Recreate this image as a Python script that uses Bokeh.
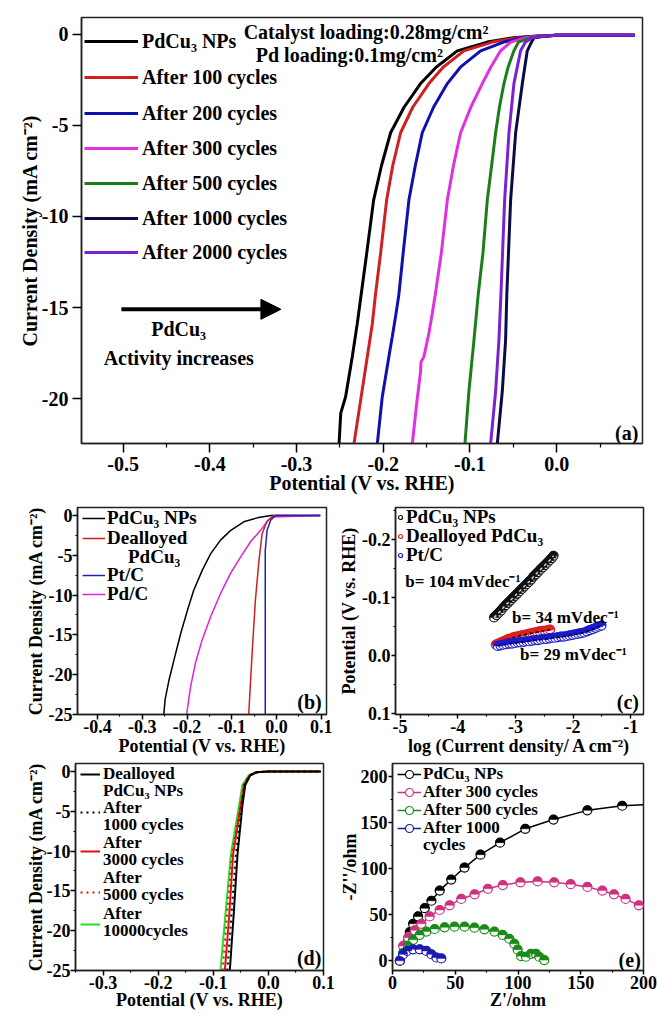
from math import pi
from bokeh.plotting import figure
from bokeh.layouts import column, row
from bokeh.models import (Range1d, FixedTicker, PrintfTickFormatter, Legend, LegendItem,
                          Label, Arrow, NormalHead)
from bokeh.embed import file_html
from bokeh.resources import INLINE

FONT = "Liberation Serif"

# ---------------- Panel (a): LSV after cycling ----------------
a_labels = ["PdCu\u2083 NPs", "After 100 cycles", "After 200 cycles", "After 300 cycles",
            "After 500 cycles", "After 1000 cycles", "After 2000 cycles"]
a_colors = ["#000000", "#d02020", "#1010b0", "#e030e0", "#1a7f1a", "#0b0b45", "#7b22d0"]
a_black_x = [-0.251, -0.249, -0.2434, -0.2357, -0.230, -0.2255, -0.219, -0.2111, -0.202, -0.1915, -0.176, -0.157, -0.139, -0.1146, -0.080, -0.0497, -0.0266, 0.0, 0.09]
a_black_y = [-22.5, -20.8, -19.9, -17.7, -15.9, -14.3, -12, -9.1, -7.2, -5.4, -4, -2.7, -1.8, -0.9, -0.42, -0.18, -0.1, -0.05, -0.05]
a_red_x = [-0.2338, -0.2261, -0.2184, -0.2126, -0.209, -0.203, -0.1961, -0.189, -0.180, -0.166, -0.1473, -0.131, -0.107, -0.0742, -0.0454, -0.024, 0.0, 0.09]
a_red_y = [-22.5, -20.1, -17.7, -15.9, -14.3, -12, -9.1, -7.2, -5.4, -4, -2.7, -1.8, -0.9, -0.42, -0.18, -0.1, -0.05, -0.05]
a_blue_x = [-0.2069, -0.2011, -0.1935, -0.1896, -0.1858, -0.182, -0.177, -0.1704, -0.163, -0.155, -0.142, -0.1261, -0.111, -0.0877, -0.061, -0.0396, -0.022, 0.0, 0.09]
a_blue_y = [-22.5, -19.9, -17.7, -16.6, -15.5, -14.3, -12, -9.1, -7.2, -5.4, -4, -2.7, -1.8, -0.9, -0.42, -0.18, -0.1, -0.05, -0.05]
a_mag_x = [-0.1665, -0.1615, -0.1569, -0.1565, -0.1531, -0.1473, -0.1434, -0.140, -0.133, -0.1261, -0.119, -0.1108, -0.099, -0.0858, -0.076, -0.0647, -0.053, -0.0358, -0.02, 0.0, 0.09]
a_mag_y = [-22.5, -20.3, -18.5, -18.0, -17.7, -16.4, -15.3, -14.3, -12, -9.1, -7.2, -5.4, -4, -2.7, -1.8, -0.9, -0.42, -0.18, -0.1, -0.05, -0.05]
a_green_x = [-0.1058, -0.1012, -0.0954, -0.0905, -0.085, -0.080, -0.075, -0.0704, -0.066, -0.0608, -0.056, -0.0493, -0.044, -0.030, -0.016, 0.0, 0.09]
a_green_y = [-22.5, -19.6, -16.8, -14.3, -12, -9.1, -7.2, -5.4, -4, -2.7, -1.8, -0.9, -0.42, -0.18, -0.1, -0.05, -0.05]
a_navy_x = [-0.0685, -0.0627, -0.0589, -0.0575, -0.0531, -0.0473, -0.0396, -0.0339, -0.029, -0.026, -0.014, 0.0, 0.09]
a_navy_y = [-22.5, -19.6, -16.8, -14.3, -9.1, -5.4, -2.7, -0.9, -0.42, -0.18, -0.1, -0.05, -0.05]
a_purple_x = [-0.0762, -0.0704, -0.0666, -0.0643, -0.060, -0.055, -0.0493, -0.0416, -0.036, -0.028, -0.015, 0.0, 0.09]
a_purple_y = [-22.5, -19.6, -16.8, -14.3, -9.1, -5.4, -2.7, -0.9, -0.42, -0.18, -0.1, -0.05, -0.05]
a_xticks = [-0.5, -0.4, -0.3, -0.2, -0.1, 0.0, 0.1]
a_yticks = [0, -5, -10, -15, -20]

# ---------------- Panel (b): comparison of catalysts ----------------
b_labels = ["PdCu\u2083 NPs", "Dealloyed", "PdCu\u2083", "Pt/C", "Pd/C"]
b_black_x = [-0.252, -0.249, -0.240, -0.229, -0.214, -0.199, -0.185, -0.166, -0.147, -0.125, -0.103, -0.073, -0.043, -0.013, 0.098]
b_black_y = [-25, -23.1, -20.6, -18.1, -14.8, -11.9, -9.4, -6.9, -4.8, -3.1, -1.9, -0.8, -0.3, 0, 0]
b_red_x = [-0.062, -0.054, -0.047, -0.039, -0.032, -0.021, -0.006, 0.098]
b_red_y = [-25, -16.9, -10.6, -5.6, -2.3, -0.7, 0, 0]
b_blue_x = [-0.025, -0.025, -0.021, -0.013, -0.002, 0.098]
b_blue_y = [-25, -4.4, -1.9, -0.6, 0, 0]
b_mag_x = [-0.201, -0.192, -0.181, -0.166, -0.147, -0.125, -0.103, -0.080, -0.058, -0.036, -0.021, -0.010, 0.098]
b_mag_y = [-25, -21.5, -18.5, -15.6, -12.7, -9.8, -7.3, -5.2, -3.3, -1.9, -0.8, -0.2, 0]
b_xticks = [-0.4, -0.3, -0.2, -0.1, 0.0, 0.1]
b_yticks = [0, -5, -10, -15, -20, -25]

# ---------------- Panel (c): Tafel plots ----------------
c_labels = ["PdCu\u2083 NPs", "Dealloyed PdCu\u2083", "Pt/C"]
c_black_x = [-3.37, -3.33, -3.29, -3.25, -3.21, -3.17, -3.13, -3.09, -3.05, -3.01, -2.97, -2.93, -2.89, -2.85,
             -2.81, -2.77, -2.73, -2.69, -2.65, -2.61, -2.57, -2.53, -2.49, -2.45, -2.41, -2.37, -2.34]
c_black_y = [-0.066, -0.070, -0.074, -0.078, -0.083, -0.087, -0.091, -0.095, -0.099, -0.103, -0.107, -0.111,
             -0.115, -0.119, -0.123, -0.127, -0.131, -0.136, -0.140, -0.144, -0.148, -0.152, -0.156, -0.160,
             -0.164, -0.168, -0.172]
c_red_x = [-3.34, -3.30, -3.25, -3.21, -3.16, -3.12, -3.07, -3.03, -2.98, -2.94, -2.89, -2.85, -2.80, -2.76,
           -2.71, -2.67, -2.62, -2.58, -2.53, -2.49, -2.44, -2.40]
c_red_y = [-0.019, -0.021, -0.023, -0.025, -0.027, -0.029, -0.030, -0.032, -0.033, -0.034, -0.035, -0.036,
           -0.037, -0.038, -0.039, -0.040, -0.041, -0.042, -0.043, -0.043, -0.044, -0.045]
c_blue_x = [-3.31, -3.26, -3.21, -3.16, -3.11, -3.06, -3.01, -2.96, -2.91, -2.86, -2.81, -2.76, -2.71, -2.66,
            -2.61, -2.56, -2.51, -2.46, -2.41, -2.36, -2.31, -2.26, -2.21, -2.16, -2.11, -2.06, -2.01, -1.96,
            -1.91, -1.86, -1.81, -1.76, -1.71, -1.66, -1.61, -1.56, -1.51]
c_blue_y = [-0.017, -0.018, -0.019, -0.020, -0.021, -0.021, -0.022, -0.023, -0.023, -0.024, -0.025, -0.025,
            -0.026, -0.027, -0.027, -0.028, -0.029, -0.029, -0.030, -0.031, -0.031, -0.032, -0.033, -0.033,
            -0.034, -0.035, -0.036, -0.037, -0.038, -0.039, -0.040, -0.042, -0.044, -0.046, -0.048, -0.050, -0.052]
c_notes = ["b= 104 mVdec\u207b\u00b9", "b= 34 mVdec\u207b\u00b9", "b= 29 mVdec\u207b\u00b9"]
c_xticks = [-5, -4, -3, -2, -1]
c_yticks = [-0.2, -0.1, 0.0, 0.1]

# ---------------- Panel (d): durability of dealloyed PdCu3 ----------------
d_labels = ["Dealloyed", "PdCu\u2083 NPs", "After", "1000 cycles", "After", "3000 cycles",
            "After", "5000 cycles", "After", "10000cycles"]
d_y = [-25, -18, -10.4, -4.2, -1.7, -0.5, -0.1, 0, 0]
d_black_x = [-0.070, -0.063, -0.056, -0.047, -0.042, -0.033, -0.021, 0.0, 0.095]
d_blackdot_x = [-0.0745, -0.067, -0.059, -0.048, -0.043, -0.034, -0.021, 0.0, 0.095]
d_red_x = [-0.079, -0.071, -0.064, -0.050, -0.044, -0.034, -0.022, 0.0, 0.095]
d_reddot_x = [-0.083, -0.075, -0.066, -0.051, -0.045, -0.035, -0.022, 0.0, 0.095]
d_green_x = [-0.087, -0.078, -0.068, -0.053, -0.047, -0.036, -0.022, 0.0, 0.095]
d_xticks = [-0.3, -0.2, -0.1, 0.0, 0.1]
d_yticks = [0, -5, -10, -15, -20, -25]

# ---------------- Panel (e): Nyquist plots ----------------
e_labels = ["PdCu\u2083 NPs", "After 300 cycles", "After 500 cycles", "After 1000", "cycles"]
e_black_x = [5.9, 9.8, 12.4, 13.8, 16.4, 20.4, 25.7, 31.0, 37.6, 46.8, 57.4, 70.1, 85.7, 105.8, 128.3, 155.3, 183.0, 200.0]
e_black_y = [0, 12, 23, 31, 40, 48, 57, 65, 76, 88, 101, 115, 128, 143, 153, 163, 168, 169]
e_mag_x = [5.9, 8.5, 12.4, 17.7, 23.0, 29.6, 37.6, 45.5, 54.8, 65.4, 76.0, 87.9, 101.9, 115.6, 128.8, 142.0,
           155.3, 167.2, 176.5, 185.7, 196.3, 200.0]
e_mag_y = [0, 16, 25, 33, 40, 48, 55, 60, 67, 72, 78, 82, 85, 86, 85, 83, 80, 76, 72, 67, 60, 58]
e_green_x = [5.9, 8.5, 12.4, 16.4, 21.7, 27.0, 33.6, 41.5, 49.4, 57.4, 65.3, 73.2, 81.2, 87.8, 93.1, 97.1,
             99.7, 102.4, 106.3, 110.3, 114.3, 116.9, 120.9]
e_green_y = [0, 8.5, 16.3, 22.7, 28, 31.6, 34.4, 36.2, 36.9, 36.9, 35.8, 34, 31.6, 28, 23.8, 18.4, 12, 5,
             4.3, 7.5, 7.5, 4.3, 0.7]
e_blue_x = [5.9, 8.5, 11.7, 16.4, 21.7, 27.0, 31.0, 35.0, 38.9]
e_blue_y = [0, 7, 10.6, 12.4, 12.4, 10.6, 7, 3.5, 2.5]
e_ticks = [0, 50, 100, 150, 200]


def make_fig(w, h, xr, yr, bl, br, bt, bb, tick_font, label_font, tick_out, label_standoff, ax_standoff=0):
    p = figure(width=w, height=h, x_range=xr, y_range=yr, output_backend="svg",
               toolbar_location=None, min_border_left=bl, min_border_right=br,
               min_border_top=bt, min_border_bottom=bb)
    p.xgrid.visible = False
    p.ygrid.visible = False
    p.outline_line_color = "#222222"
    p.outline_line_width = 1.5
    p.outline_line_alpha = 1.0
    p.background_fill_color = "white"
    p.border_fill_color = "white"
    for ax in (p.xaxis[0], p.yaxis[0]):
        ax.axis_line_width = 1.5
        ax.axis_line_color = "#222222"
        ax.major_tick_in = 0
        ax.major_tick_out = tick_out
        ax.minor_tick_in = 0
        ax.minor_tick_out = max(tick_out // 2, 2)
        ax.major_tick_line_width = 1.5
        ax.minor_tick_line_width = 1.2
        ax.major_label_text_font = FONT
        ax.major_label_text_font_style = "bold"
        ax.major_label_text_font_size = tick_font
        ax.major_label_text_color = "black"
        ax.major_label_standoff = label_standoff
        ax.axis_label_text_font = FONT
        ax.axis_label_text_font_style = "bold"
        ax.axis_label_text_font_size = label_font
        ax.axis_label_text_color = "black"
        ax.axis_label_standoff = ax_standoff
    return p


def row_legend(p, frame_top, frame_h, center, renderers, label, vx, gw, standoff, size="20px", H=24):
    """One legend row placed so that its vertical centre sits at page row `center`."""
    leg = Legend(items=[LegendItem(label=label, renderers=renderers)])
    leg.location = (vx, frame_h - (center - frame_top) - H / 2)
    leg.label_text_font = FONT
    leg.label_text_font_style = "bold"
    leg.label_text_font_size = size
    leg.label_text_color = "black"
    leg.glyph_width = gw
    leg.glyph_height = H
    leg.label_height = H
    leg.spacing = 0
    leg.padding = 0
    leg.margin = 0
    leg.label_standoff = standoff
    leg.border_line_alpha = 0
    leg.background_fill_alpha = 0
    p.add_layout(leg)


def txt(x, y, text, size, align="left", baseline="middle"):
    return Label(x=x, y=y, text=text, text_font=FONT, text_font_style="bold",
                 text_font_size=size, text_align=align, text_baseline=baseline, text_color="black")


# ======== figure (a) ========  frame: x 81..642, y 17..443
pa = make_fig(657, 502, Range1d(-0.548, 0.099), Range1d(-22.47, 0.93), 81, 15, 17, 59,
              "20px", "20px", 9, 4, -2)
pa.xaxis[0].ticker = FixedTicker(ticks=a_xticks, minor_ticks=[-0.55, -0.45, -0.35, -0.25, -0.15, -0.05, 0.05])
pa.yaxis[0].ticker = FixedTicker(ticks=a_yticks, minor_ticks=[])
pa.xaxis[0].formatter = PrintfTickFormatter(format="%.1f")
pa.yaxis[0].formatter = PrintfTickFormatter(format="%d")
pa.xaxis[0].axis_label = "Potential (V vs. RHE)"
pa.yaxis[0].axis_label = "Current Density (mA cm\u207b\u00b2)"
a_series = [(a_black_x, a_black_y), (a_red_x, a_red_y), (a_blue_x, a_blue_y), (a_mag_x, a_mag_y),
            (a_green_x, a_green_y), (a_navy_x, a_navy_y), (a_purple_x, a_purple_y)]
a_rows = [41, 77, 113, 148, 183, 218, 252]
for (xs, ys), col, lab, cy in zip(a_series, a_colors, a_labels, a_rows):
    r = pa.line(xs, ys, line_color=col, line_width=3)
    row_legend(pa, 17, 426, cy, [r], lab, 3, 54, 4)
pa.add_layout(txt(-0.361, 0.11, "Catalyst loading:0.28mg/cm\u00b2", "20px"))
pa.add_layout(txt(-0.347, -1.15, "Pd loading:0.1mg/cm\u00b2", "20px"))
pa.add_layout(Arrow(end=NormalHead(size=20, fill_color="black", line_color="black"),
                    x_start=-0.502, y_start=-15.1, x_end=-0.318, y_end=-15.1,
                    line_width=4, line_color="black"))
pa.add_layout(txt(-0.436, -16.2, "PdCu\u2083", "20px", align="center"))
pa.add_layout(txt(-0.433, -17.8, "Activity  increases", "20px", align="center"))
pa.add_layout(txt(0.0807, -21.9, "(a)", "20px", align="center"))

# ======== figure (b) ========  frame: x 77..326, y 507..714
pb = make_fig(336, 258, Range1d(-0.445, 0.112), Range1d(-25, 1), 77, 10, 5, 46,
              "18px", "18px", 5, 0, 0)
pb.xaxis[0].ticker = FixedTicker(ticks=b_xticks, minor_ticks=[-0.35, -0.25, -0.15, -0.05, 0.05])
pb.yaxis[0].ticker = FixedTicker(ticks=b_yticks, minor_ticks=[-2.5, -7.5, -12.5, -17.5, -22.5])
pb.xaxis[0].formatter = PrintfTickFormatter(format="%.1f")
pb.yaxis[0].formatter = PrintfTickFormatter(format="%d")
pb.xaxis[0].axis_label = "Potential (V vs. RHE)"
pb.yaxis[0].axis_label = "Current Density (mA cm\u207b\u00b2)"
rb_k = pb.line(b_black_x, b_black_y, line_color="black", line_width=1.5)
rb_m = pb.line(b_mag_x, b_mag_y, line_color="#e020e0", line_width=1.5)
rb_r = pb.line(b_red_x, b_red_y, line_color="#cc2020", line_width=1.5)
rb_b = pb.line(b_blue_x, b_blue_y, line_color="#2020c0", line_width=1.5)
rb_d = pb.line([], [], line_alpha=0)
b_rows = [518, 538, 557, 575, 594]
b_rend = [rb_k, rb_r, rb_d, rb_b, rb_m]
b_vx = [5, 5, 26, 5, 5]
for lab, cy, r, vx in zip(b_labels, b_rows, b_rend, b_vx):
    row_legend(pb, 507, 207, cy, [r], lab, vx, 23, 2, size="19px")
pb.add_layout(txt(0.074, -23.4, "(b)", "20px", align="center"))

# ======== figure (c) ========  frame: x 392..643, y 503..714
pc = make_fig(321, 258, Range1d(-5.08, -0.78), Range1d(0.101, -0.255), 56, 14, 1, 46,
              "18px", "18px", 4, 1, 0)
pc.xaxis[0].ticker = FixedTicker(ticks=c_xticks, minor_ticks=[-4.5, -3.5, -2.5, -1.5])
pc.yaxis[0].ticker = FixedTicker(ticks=c_yticks, minor_ticks=[-0.25, -0.15, -0.05, 0.05])
pc.xaxis[0].formatter = PrintfTickFormatter(format="%d")
pc.yaxis[0].formatter = PrintfTickFormatter(format="%.1f")
pc.xaxis[0].axis_label = "log (Current density/ A cm\u207b\u00b2)"
pc.yaxis[0].axis_label = "Potential (V vs. RHE)"
c_rows = [518, 537, 556]
for xs, ys, col, lab, dash_col, cy in [(c_black_x, c_black_y, "#111111", c_labels[0], "#d0d0d0", c_rows[0]),
                                       (c_red_x, c_red_y, "#e02020", c_labels[1], "black", c_rows[1]),
                                       (c_blue_x, c_blue_y, "#1a1ad0", c_labels[2], "black", c_rows[2])]:
    sc = pc.scatter(xs, ys, marker="circle", size=9, line_color=col, fill_color="white", line_width=1.2)
    pc.wedge(xs, ys, radius=4.5, radius_units="screen", start_angle=0, end_angle=pi,
             fill_color=col, line_color=col, line_width=0.5)
    pc.line(xs, ys, line_color=dash_col, line_dash="3 3", line_width=1.5)
    row_legend(pc, 503, 211, cy, [sc], lab, 0, 10, 1, size="19px", H=20)
pc.add_layout(txt(-4.91, -0.128, c_notes[0], "17px"))
pc.add_layout(txt(-3.06, -0.066, c_notes[1], "17px"))
pc.add_layout(txt(-2.92, -0.003, c_notes[2], "17px"))
pc.add_layout(txt(-1.05, 0.079, "(c)", "20px", align="center"))

# ======== figure (d) ========  frame: x 75..323, y 763..970
pd_ = make_fig(336, 254, Range1d(-0.35, 0.1), Range1d(-25, 1), 75, 13, 3, 44,
               "18px", "18px", 5, 0, -2)
pd_.xaxis[0].ticker = FixedTicker(ticks=d_xticks, minor_ticks=[-0.35, -0.25, -0.15, -0.05, 0.05])
pd_.yaxis[0].ticker = FixedTicker(ticks=d_yticks, minor_ticks=[-2.5, -7.5, -12.5, -17.5, -22.5])
pd_.xaxis[0].formatter = PrintfTickFormatter(format="%.1f")
pd_.yaxis[0].formatter = PrintfTickFormatter(format="%d")
pd_.xaxis[0].axis_label = "Potential (V vs. RHE)"
pd_.yaxis[0].axis_label = "Current Density (mA cm\u207b\u00b2)"
rd_g = pd_.line(d_green_x, d_y, line_color="#20e020", line_width=2)
rd_rd = pd_.line(d_reddot_x, d_y, line_color="#e01010", line_width=2, line_dash="2 4")
rd_r = pd_.line(d_red_x, d_y, line_color="#e01010", line_width=2)
rd_kd = pd_.line(d_blackdot_x, d_y, line_color="black", line_width=2, line_dash="2 4")
rd_k = pd_.line(d_black_x, d_y, line_color="black", line_width=2)
rd_0 = pd_.line([], [], line_alpha=0)
d_text_rows = [774, 791, 808, 825, 843, 860, 878, 895, 914, 931]
d_text_rend = [rd_k, rd_0, rd_0, rd_0, rd_0, rd_0, rd_0, rd_0, rd_0, rd_0]
for lab, cy, r in zip(d_labels, d_text_rows, d_text_rend):
    row_legend(pd_, 763, 207, cy, [r], lab, 5, 20, 3, size="17px", H=20)
for cy, r in zip([812, 851, 892, 924], [rd_kd, rd_r, rd_rd, rd_g]):
    row_legend(pd_, 763, 207, cy, [r], "\u00a0", 5, 20, 3, size="17px", H=20)
pd_.add_layout(txt(0.074, -23.4, "(d)", "20px", align="center"))

# ======== figure (e) ========  frame: x 391..643, y 762..970
pe = make_fig(321, 254, Range1d(0, 200), Range1d(-10.6, 213.8), 55, 14, 2, 44,
              "18px", "18px", 4, 1, -2)
pe.xaxis[0].ticker = FixedTicker(ticks=e_ticks, minor_ticks=[25, 75, 125, 175])
pe.yaxis[0].ticker = FixedTicker(ticks=e_ticks, minor_ticks=[25, 75, 125, 175])
pe.xaxis[0].axis_label = "Z'/ohm"
pe.yaxis[0].axis_label = "-Z''/ohm"
e_rows = [774, 792, 810, 828, 845]
for xs, ys, col, lab, trim, cy in [(e_black_x, e_black_y, "black", e_labels[0], True, e_rows[0]),
                                   (e_mag_x, e_mag_y, "#d03080", e_labels[1], True, e_rows[1]),
                                   (e_green_x, e_green_y, "#1a8a1a", e_labels[2], False, e_rows[2]),
                                   (e_blue_x, e_blue_y, "#1a1ab0", e_labels[3], False, e_rows[3])]:
    ln = pe.line(xs, ys, line_color=col, line_width=1.5)
    mx = xs[:-1] if trim else xs
    my = ys[:-1] if trim else ys
    sc = pe.scatter(mx, my, marker="circle", size=9, line_color=col, fill_color="white", line_width=1.2)
    pe.wedge(mx, my, radius=4.5, radius_units="screen", start_angle=0, end_angle=pi,
             fill_color=col, line_color=col, line_width=0.5)
    row_legend(pe, 762, 208, cy, [ln, sc], lab, 5, 24, 2, size="17px", H=20)
re_0 = pe.line([], [], line_alpha=0)
row_legend(pe, 762, 208, e_rows[4], [re_0], e_labels[4], 5, 24, 2, size="17px", H=20)
pe.add_layout(txt(189, 1, "(e)", "20px", align="center"))

layout = column(pa, row(pb, pc), row(pd_, pe))
open("out.html", "w").write(file_html(layout, INLINE))
